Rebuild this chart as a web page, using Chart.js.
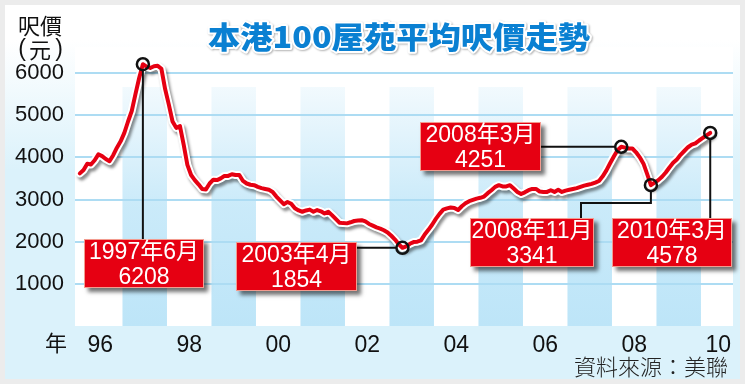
<!DOCTYPE html>
<html>
<head>
<meta charset="utf-8">
<script src="https://cdn.jsdelivr.net/npm/chart.js@4.4.0/dist/chart.umd.min.js"></script>
<style>
    html, body { margin: 0; padding: 0; background: #ececec; }
    canvas { display: block; }
</style>
</head>
<body>
<canvas id="priceChart" width="745" height="384"></canvas>
<script>
// 本港100屋苑平均呎價 (元), monthly from Jan 1996 to Mar 2010
const startYear = 1996;
const prices = [
    3620, 3700, 3850, 3830, 3930, 4070, 4030, 3960, 3910, 4050, 4230, 4380, // 1996
    4580, 4850, 5100, 5500, 5880, 6208, 6150, 6120, 6160, 6170, 6100, 5620, // 1997
    5250, 4850, 4700, 4740, 4300, 3820, 3580, 3460, 3360, 3250, 3240, 3380, // 1998
    3470, 3460, 3500, 3560, 3560, 3600, 3580, 3580, 3440, 3380, 3350, 3340, // 1999
    3300, 3270, 3250, 3230, 3180, 3070, 2980, 2890, 2940, 2900, 2790, 2740, // 2000
    2710, 2740, 2760, 2710, 2750, 2720, 2670, 2710, 2630, 2540, 2450, 2440, // 2001
    2434, 2460, 2490, 2500, 2510, 2480, 2420, 2380, 2340, 2310, 2270, 2220, // 2002
    2140, 2050, 1940, 1854, 1890, 1950, 1990, 2000, 2030, 2170, 2280, 2400, // 2003
    2540, 2660, 2760, 2790, 2810, 2800, 2750, 2840, 2910, 2960, 2990, 3020, // 2004
    3040, 3070, 3150, 3220, 3300, 3340, 3310, 3310, 3340, 3260, 3180, 3130, // 2005
    3170, 3220, 3250, 3250, 3190, 3180, 3180, 3220, 3180, 3230, 3180, 3210, // 2006
    3230, 3250, 3270, 3300, 3330, 3350, 3370, 3400, 3440, 3550, 3690, 3860, // 2007
    4020, 4170, 4251, 4230, 4210, 4210, 4120, 4000, 3850, 3600, 3341, 3400, // 2008
    3460, 3540, 3640, 3760, 3870, 3950, 4060, 4150, 4240, 4300, 4330, 4400, // 2009
    4460, 4520, 4578                                                         // 2010
];

// x axis labels (even years) and y ticks
const tickYears = [1996, 1998, 2000, 2002, 2004, 2006, 2008, 2010];
const tickLabels = ['96', '98', '00', '02', '04', '06', '08', '10'];
const yTicks = [1000, 2000, 3000, 4000, 5000, 6000];

// callouts
const calloutLabels = ['1997年6月', '2003年4月', '2008年3月', '2008年11月', '2010年3月'];
const calloutValues = [6208, 1854, 4251, 3341, 4578];
const calloutMonths = [17, 87, 146, 154, 170];

// callout box layout (pixels) and how the leader runs
const calloutBoxes = [
    { x: 84, y: 239, w: 120, h: 49, leader: 'down' },
    { x: 236, y: 242, w: 121, h: 49, leader: 'left' },
    { x: 420, y: 122, w: 121, h: 49, leader: 'left' },
    { x: 470, y: 218, w: 124, h: 49, leader: 'elbow', elbowY: 203, elbowX: 581 },
    { x: 612, y: 218, w: 120, h: 49, leader: 'down' }
];

const X_MIN = 1995.933;
const X_MAX = 2010.72;

const points = prices.map((v, i) => ({ x: startYear + (i + 0.5) / 12, y: v }));

const FONT_NUM = '"Liberation Sans", Arial, "Noto Sans CJK TC", sans-serif';
const FONT_CJK = '"Noto Sans CJK TC", "Noto Sans CJK SC", sans-serif';

// backgrounds: frame, panel, plot area, odd-year bands
const backgroundPlugin = {
    id: 'background',
    beforeDraw(chart) {
        const { ctx, chartArea: { left, top, right, bottom }, scales: { x } } = chart;
        ctx.save();
        ctx.fillStyle = '#ececec';
        ctx.fillRect(0, 0, chart.width, chart.height);

        const g = ctx.createLinearGradient(0, 40, 0, 170);
        g.addColorStop(0, '#ffffff');
        g.addColorStop(1, '#dbf2fb');
        ctx.fillStyle = g;
        ctx.fillRect(5, 5, 735, 374);

        ctx.fillStyle = '#ffffff';
        ctx.fillRect(left, top, right - left, bottom - top);

        const bandTop = 87;
        const bg = ctx.createLinearGradient(0, bandTop, 0, bottom);
        bg.addColorStop(0, 'rgba(189,229,248,0.2)');
        bg.addColorStop(0.5, 'rgba(189,229,248,0.8)');
        bg.addColorStop(1, 'rgba(189,229,248,1)');
        ctx.fillStyle = bg;
        for (let yr = startYear + 1; yr <= 2010; yr += 2) {
            const x0 = x.getPixelForValue(yr);
            const x1 = Math.min(x.getPixelForValue(yr + 1), right);
            ctx.fillRect(x0, bandTop, x1 - x0, bottom - bandTop);
        }
        ctx.restore();
    }
};

// shadow under the white outline of the line
const lineShadowPlugin = {
    id: 'lineShadow',
    beforeDatasetDraw(chart, args) {
        if (args.index !== 1) return;
        const ctx = chart.ctx;
        ctx.save();
        ctx.shadowColor = 'rgba(0,0,0,0.45)';
        ctx.shadowOffsetX = 2;
        ctx.shadowOffsetY = 3;
        ctx.shadowBlur = 3;
    },
    afterDatasetDraw(chart, args) {
        if (args.index !== 1) return;
        chart.ctx.restore();
    }
};

// leaders, circles, red boxes
const calloutPlugin = {
    id: 'callouts',
    afterDatasetsDraw(chart) {
        const { ctx, scales: { x, y } } = chart;
        ctx.save();
        calloutBoxes.forEach((b, i) => {
            const px = x.getPixelForValue(points[calloutMonths[i]].x);
            const py = y.getPixelForValue(calloutValues[i]);

            ctx.strokeStyle = '#111';
            ctx.lineWidth = 2;
            ctx.beginPath();
            if (b.leader === 'down') {
                ctx.moveTo(px, py + 6);
                ctx.lineTo(px, b.y);
            } else if (b.leader === 'left') {
                ctx.moveTo(px - 6, py);
                ctx.lineTo(b.x + b.w, py);
            } else {
                ctx.moveTo(px, py + 6);
                ctx.lineTo(px, b.elbowY);
                ctx.lineTo(b.elbowX, b.elbowY);
                ctx.lineTo(b.elbowX, b.y);
            }
            ctx.stroke();

            ctx.lineWidth = 2.5;
            ctx.beginPath();
            ctx.arc(px, py, 6, 0, Math.PI * 2);
            ctx.stroke();

            ctx.save();
            ctx.shadowColor = 'rgba(0,0,0,0.55)';
            ctx.shadowOffsetX = 4;
            ctx.shadowOffsetY = 4;
            ctx.shadowBlur = 4;
            ctx.fillStyle = '#e60012';
            ctx.fillRect(b.x, b.y, b.w, b.h);
            ctx.restore();
            ctx.strokeStyle = '#f39b8f';
            ctx.lineWidth = 1;
            ctx.strokeRect(b.x + 0.5, b.y + 0.5, b.w - 1, b.h - 1);

            ctx.fillStyle = '#ffffff';
            ctx.font = '23px ' + FONT_NUM;
            ctx.textAlign = 'center';
            ctx.textBaseline = 'middle';
            ctx.fillText(calloutLabels[i], b.x + b.w / 2, b.y + 14);
            ctx.fillText(String(calloutValues[i]), b.x + b.w / 2, b.y + 39);
        });
        ctx.restore();
    }
};

// title, axis captions, source
const textPlugin = {
    id: 'texts',
    afterDraw(chart) {
        const ctx = chart.ctx;
        ctx.save();
        const title = '本港100屋苑平均呎價走勢';
        ctx.font = '900 30px ' + FONT_CJK;
        ctx.textAlign = 'center';
        ctx.textBaseline = 'middle';
        const w = ctx.measureText(title).width;
        ctx.translate(399, 37);
        ctx.scale(382 / w, 1);
        ctx.shadowColor = 'rgba(0,0,0,0.3)';
        ctx.shadowOffsetX = 1;
        ctx.shadowOffsetY = 1;
        ctx.shadowBlur = 2;
        ctx.strokeStyle = '#ffffff';
        ctx.lineWidth = 4;
        ctx.lineJoin = 'round';
        ctx.strokeText(title, 0, 0);
        ctx.shadowColor = 'transparent';
        ctx.fillStyle = '#0a80d2';
        ctx.fillText(title, 0, 0);
        ctx.restore();

        ctx.save();
        ctx.fillStyle = '#111';
        ctx.textAlign = 'center';
        ctx.textBaseline = 'middle';
        ctx.font = '22px ' + FONT_CJK;
        ctx.fillText('呎價', 40, 26);
        ctx.fillText('元', 40, 50);
        ctx.fillText('年', 56, 343);
        ctx.font = '23px ' + FONT_NUM;
        ctx.fillText('(', 22, 50);
        ctx.fillText(')', 59, 50);

        ctx.textAlign = 'right';
        ctx.font = '300 22px ' + FONT_CJK;
        ctx.fillStyle = '#222';
        ctx.fillText('資料來源：美聯', 728, 367);
        ctx.restore();
    }
};

new Chart(document.getElementById('priceChart'), {
    type: 'line',
    data: {
        datasets: [{
            data: points,
            borderColor: '#e60012',
            borderWidth: 4,
            pointRadius: 0,
            tension: 0,
            borderJoinStyle: 'round',
            borderCapStyle: 'round',
            order: 0
        }, {
            data: points,
            borderColor: '#ffffff',
            borderWidth: 8,
            pointRadius: 0,
            tension: 0,
            borderJoinStyle: 'round',
            borderCapStyle: 'round',
            order: 1
        }]
    },
    options: {
        responsive: false,
        animation: false,
        layout: { padding: { left: 0, right: 12, top: 47, bottom: 18 } },
        plugins: {
            legend: { display: false },
            title: { display: false },
            tooltip: { enabled: false }
        },
        scales: {
            x: {
                type: 'linear',
                min: X_MIN,
                max: X_MAX,
                grid: { display: false },
                border: { display: false },
                afterBuildTicks: axis => {
                    // label sits mid-year; the last one is held inside the plot
                    axis.ticks = tickYears.map(yr => ({ value: Math.min(yr + 0.5, X_MAX - 0.33) }));
                },
                afterFit: axis => {
                    axis.height = 40;
                    axis.paddingLeft = 0;
                    axis.paddingRight = 0;
                },
                ticks: {
                    autoSkip: false,
                    maxRotation: 0,
                    padding: -2,
                    color: '#111',
                    font: { family: FONT_NUM, size: 23 },
                    callback: (value, index) => tickLabels[index]
                }
            },
            y: {
                min: 0,
                max: 6617,
                grid: { color: '#addcf3', lineWidth: 2, drawTicks: false },
                border: { display: false },
                afterBuildTicks: axis => {
                    axis.ticks = yTicks.map(v => ({ value: v }));
                },
                afterFit: axis => {
                    axis.width = 75;
                    axis.paddingTop = 0;
                    axis.paddingBottom = 0;
                },
                ticks: {
                    padding: 11,
                    color: '#111',
                    font: { family: FONT_NUM, size: 22 },
                    callback: value => String(value)
                }
            }
        }
    },
    plugins: [backgroundPlugin, lineShadowPlugin, calloutPlugin, textPlugin]
});
</script>
</body>
</html>
